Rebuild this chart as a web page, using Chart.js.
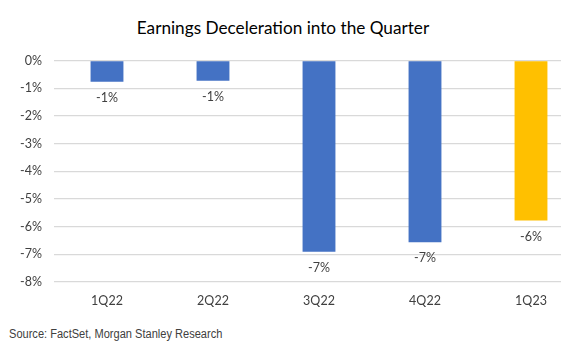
<!DOCTYPE html>
<html>
<head>
<meta charset="utf-8">
<script src="https://cdn.jsdelivr.net/npm/chart.js@4/dist/chart.umd.min.js"></script>
<style>
  html, body { margin: 0; padding: 0; background: #fff; overflow: hidden; width: 561px; height: 354px; }
  #title { position: absolute; left: 0; width: 566px; top: 17px; text-align: center; font-family: "Lato", "Open Sans", sans-serif; font-size: 17.2px; color: #000; }
  #wrap { position: absolute; left: 0; top: 0; width: 584px; height: 319px; }
  #source { position: absolute; left: 9px; top: 327px; font-family: "Liberation Sans", sans-serif; font-size: 12.5px; color: #404040; transform: scaleX(0.885); transform-origin: left top; white-space: nowrap; }
</style>
</head>
<body>
<div id="title">Earnings Deceleration into the Quarter</div>
<div id="wrap"><canvas id="c"></canvas></div>
<div id="source">Source: FactSet, Morgan Stanley Research</div>
<script>
const categories = ["1Q22", "2Q22", "3Q22", "4Q22", "1Q23"];
const earningsGrowth = [-0.77, -0.73, -6.91, -6.56, -5.78];
const barColors = ["#4472C4", "#4472C4", "#4472C4", "#4472C4", "#FFC000"];
const yTicks = [0, -1, -2, -3, -4, -5, -6, -7, -8];

const FONT = '"Lato", "Open Sans", sans-serif';

const labelPlugin = {
  id: 'barLabels',
  afterDatasetsDraw(chart) {
    const ctx = chart.ctx;
    const meta = chart.getDatasetMeta(0);
    ctx.save();
    ctx.font = '12.5px ' + FONT;
    ctx.fillStyle = '#404040';
    ctx.textAlign = 'center';
    ctx.textBaseline = 'middle';
    meta.data.forEach((bar, i) => {
      const v = chart.data.datasets[0].data[i];
      ctx.fillText(Math.round(v) + '%', bar.x, bar.y + 16);
    });
    ctx.restore();
  }
};

new Chart(document.getElementById('c'), {
  type: 'bar',
  data: {
    labels: categories,
    datasets: [{
      data: earningsGrowth,
      backgroundColor: barColors,
      borderWidth: 0,
      barPercentage: 0.31,
      categoryPercentage: 1.0
    }]
  },
  options: {
    responsive: true,
    maintainAspectRatio: false,
    animation: false,
    layout: { padding: { top: 60.5, right: 0, left: 0, bottom: 0 } },
    plugins: { legend: { display: false }, tooltip: { enabled: false }, title: { display: false } },
    scales: {
      x: {
        grid: { display: false, drawTicks: false },
        border: { display: false },
        ticks: { color: '#404040', font: { family: FONT, size: 12.5 }, padding: 11 }
      },
      y: {
        min: -8, max: 0,
        afterBuildTicks(scale) { scale.ticks = yTicks.map(v => ({ value: v })); },
        afterFit(scale) { scale.width = 54; },
        grid: { color: '#D9D9D9', lineWidth: 1.3, drawTicks: false },
        border: { display: false },
        ticks: {
          color: '#404040',
          font: { family: FONT, size: 12.5 },
          padding: 12,
          callback: v => v + '%'
        }
      }
    }
  },
  plugins: [labelPlugin]
});
</script>
</body>
</html>
